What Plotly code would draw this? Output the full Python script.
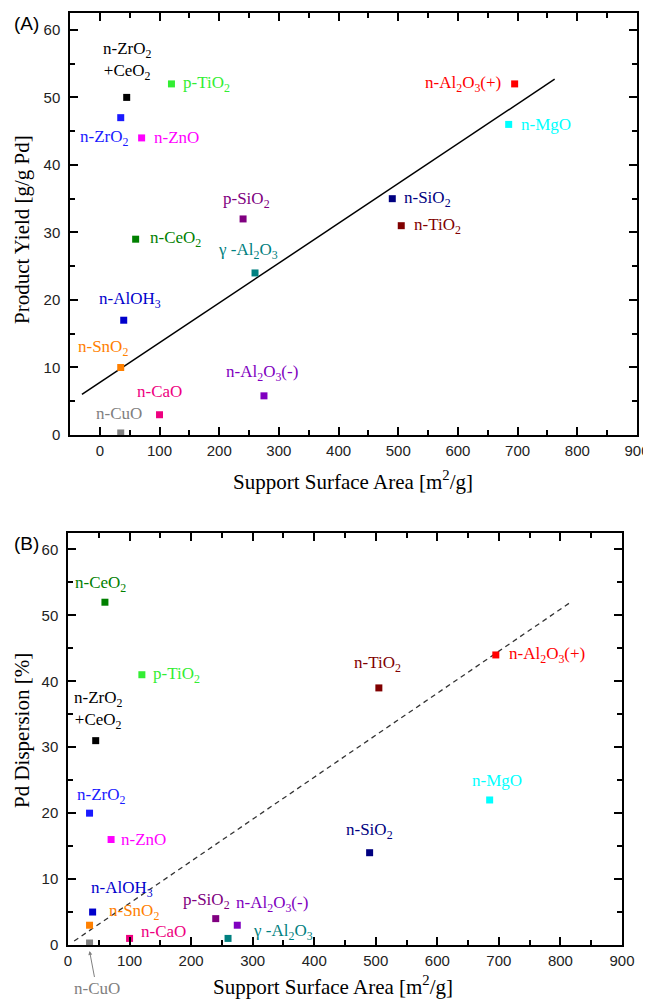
import plotly.graph_objects as go

# ---------------- data ----------------
supports = ["n-ZrO2+CeO2", "n-ZrO2", "p-TiO2", "n-ZnO", "p-SiO2", "n-CeO2",
            "n-Al2O3(+)", "n-MgO", "n-SiO2", "n-TiO2", "g-Al2O3", "n-AlOH3",
            "n-SnO2", "n-CaO", "n-Al2O3(-)", "n-CuO"]
labels_html = ["n-ZrO<sub>2</sub><br>+CeO<sub>2</sub>", "n-ZrO<sub>2</sub>", "p-TiO<sub>2</sub>",
               "n-ZnO", "p-SiO<sub>2</sub>", "n-CeO<sub>2</sub>", "n-Al<sub>2</sub>O<sub>3</sub>(+)",
               "n-MgO", "n-SiO<sub>2</sub>", "n-TiO<sub>2</sub>", "γ -Al<sub>2</sub>O<sub>3</sub>",
               "n-AlOH<sub>3</sub>", "n-SnO<sub>2</sub>", "n-CaO", "n-Al<sub>2</sub>O<sub>3</sub>(-)", "n-CuO"]
surface_area = [45, 35, 120, 70, 240, 60, 695, 685, 490, 505, 260, 40, 35, 100, 275, 35]
product_yield = [50, 47, 52, 44, 32, 29, 52, 46, 35, 31, 24, 17, 10, 3, 5.8, 0.3]
pd_dispersion = [31, 20, 41, 16, 4, 52, 44, 22, 14, 39, 1, 5, 3, 1, 3, 0.3]
colors = ["#000000", "#1a1aff", "#33ee33", "#ff00ff", "#800080", "#008000",
          "#ff0000", "#00ffff", "#000080", "#800000", "#008080", "#0000cc",
          "#ff8000", "#ee0080", "#8000c0", "#808080"]

fitA_x = [-30, 762]
fitA_y = [6.0, 52.7]
fitB_x = [10, 815]
fitB_y = [0.6, 51.9]

# label placement (anchor, dx px, dy px) per panel
placeA = [("center", 0, 36), ("center", -17, -20), ("left", 10, 0), ("left", 10, 0),
          ("center", 3, 19), ("left", 12, 0), ("right", -12, 0), ("left", 10, 0),
          ("left", 10, 0), ("left", 11, 0), ("center", -7, 22), ("center", 6, 20),
          ("center", -18, 19), ("center", 0, 23), ("center", -2, 23), ("center", -2, 19)]
placeB = [("center", 2, 31), ("center", 11, 17), ("left", 9, 0), ("left", 8, 0),
          ("center", -9, 18), ("center", -4, 18), ("left", 11, 0), ("center", 7, 19),
          ("center", 0, 22), ("center", -1, 24), ("left", 23, 6), ("center", 29, 23),
          ("left", 17, 13), ("left", 9, 7), ("center", 35, 21), None]

SERIF = "Liberation Serif"
SANS = "Liberation Sans"

# page has an 8px body margin: figure is 643x992 placed at (8, 8)
W, H, OFF = 643, 992, 8
def px(sx):
    return (sx - OFF) / W
def py(sy):
    return 1 - (sy - OFF) / H

fig = go.Figure()

fig.add_trace(go.Scatter(x=fitA_x, y=fitA_y, mode="lines", line=dict(color="black", width=1.5),
                         xaxis="x", yaxis="y", showlegend=False))
fig.add_trace(go.Scatter(x=fitB_x, y=fitB_y, mode="lines",
                         line=dict(color="#333333", width=1.3, dash="5px,4px"),
                         xaxis="x2", yaxis="y2", showlegend=False))

fig.add_trace(go.Scatter(x=surface_area, y=product_yield, mode="markers",
                         marker=dict(symbol="square", size=7, color=colors),
                         xaxis="x", yaxis="y", showlegend=False))
fig.add_trace(go.Scatter(x=surface_area, y=pd_dispersion, mode="markers",
                         marker=dict(symbol="square", size=7, color=colors),
                         xaxis="x2", yaxis="y2", showlegend=False))

annotations = []
for i, lab in enumerate(labels_html):
    a, dx, dy = placeA[i]
    annotations.append(dict(x=surface_area[i], y=product_yield[i], xref="x", yref="y",
                            text=lab, showarrow=False, xanchor=a, yanchor="middle",
                            xshift=dx, yshift=dy, font=dict(family=SERIF, size=17, color=colors[i])))
    if placeB[i] is not None:
        a, dx, dy = placeB[i]
        annotations.append(dict(x=surface_area[i], y=pd_dispersion[i], xref="x2", yref="y2",
                                text=lab, showarrow=False, xanchor=a, yanchor="middle",
                                xshift=dx, yshift=dy, font=dict(family=SERIF, size=17, color=colors[i])))
    else:
        annotations.append(dict(x=surface_area[i], y=py(951), xref="x2", yref="paper",
                                text=lab, showarrow=True, ax=7, ay=37, arrowcolor="#808080",
                                arrowwidth=1, arrowhead=2, arrowsize=0.8, standoff=0,
                                font=dict(family=SERIF, size=17, color=colors[i])))

title_font = dict(family=SERIF, size=21, color="black")
def paper_text(x, y, text, font, angle=0):
    return dict(x=px(x), y=py(y), xref="paper", yref="paper", showarrow=False,
                xanchor="center", yanchor="middle", textangle=angle, text=text, font=font)

annotations += [
    paper_text(353, 480, "Support Surface Area [m<sup>2</sup>/g]", title_font),
    paper_text(333, 985, "Support Surface Area [m<sup>2</sup>/g]", title_font),
    paper_text(22, 230, "Product Yield [g/g Pd]", title_font, -90),
    paper_text(22, 731, "Pd Dispersion [%]", title_font, -90),
    paper_text(26, 23, "(A)", dict(family=SANS, size=19, color="black")),
    paper_text(26, 543, "(B)", dict(family=SANS, size=19, color="black")),
]

def axis(rng, dtick, mdtick, domain, anchor, standoff):
    return dict(range=rng, dtick=dtick, tick0=0, ticks="inside", ticklen=8, tickwidth=1.5,
                tickcolor="black", showline=True, linewidth=1.5, linecolor="black",
                mirror="allticks", showgrid=False, zeroline=False, domain=domain, anchor=anchor,
                automargin=False, ticklabelstandoff=standoff,
                tickfont=dict(family=SANS, size=15, color="#222222"),
                minor=dict(dtick=mdtick, tick0=0, ticks="inside", ticklen=5, tickwidth=1.5,
                           tickcolor="black", showgrid=False))

fig.update_layout(
    width=W, height=H, margin=dict(l=0, r=0, t=0, b=0, autoexpand=False),
    plot_bgcolor="white", paper_bgcolor="white", showlegend=False,
    xaxis=axis([-50, 900], 100, 50, [px(70), px(637)], "y", 1),
    yaxis=axis([0, 62.5], 10, 5, [py(435), py(13)], "x", 5),
    xaxis2=axis([0, 900], 100, 50, [px(68), px(622)], "y2", 1),
    yaxis2=axis([0, 62.5], 10, 5, [py(945), py(533)], "x2", 5),
    annotations=annotations,
)

fig.write_html("out.html")
